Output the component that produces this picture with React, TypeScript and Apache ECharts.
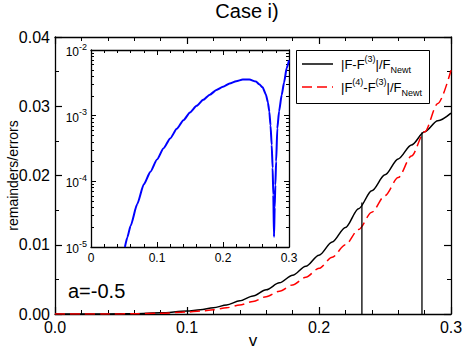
import React, { useEffect, useRef } from "react";
import * as echarts from "echarts";

const FONT = "'Liberation Sans', Arial, Helvetica, sans-serif";

// main panel: x values (v) and the two curves
const vMain = [0, 0.02, 0.04, 0.06, 0.08, 0.10, 0.11, 0.12, 0.13, 0.14, 0.15, 0.16, 0.17, 0.18, 0.19, 0.20, 0.21, 0.22, 0.23, 0.24, 0.25, 0.26, 0.27, 0.28, 0.29, 0.30];
const blackVals = [0, 0, 0.00001, 0.00005, 0.00017, 0.00042, 0.00062, 0.0009, 0.0013, 0.0019, 0.0026, 0.0035, 0.0045, 0.0056, 0.0069, 0.0085, 0.0104, 0.0125, 0.0152, 0.0178, 0.0201, 0.0224, 0.0244, 0.0263, 0.0279, 0.0290];
const redVals = [0, 0, 0.000005, 0.00003, 0.00011, 0.00028, 0.00042, 0.00062, 0.0009, 0.0013, 0.0018, 0.0025, 0.0033, 0.0042, 0.0053, 0.0066, 0.0082, 0.0100, 0.0122, 0.0147, 0.0171, 0.0197, 0.0228, 0.0263, 0.0304, 0.0352];

// vertical marker lines (x, top value)
const markerX = [0.2325, 0.278];
const markerTop = [0.0161, 0.0262];

// inset curve
const vInset = [0.0514, 0.055, 0.06, 0.07, 0.08, 0.09, 0.10, 0.11, 0.12, 0.13, 0.14, 0.15, 0.16, 0.17, 0.18, 0.19, 0.20, 0.21, 0.22, 0.23, 0.24, 0.25, 0.255, 0.26, 0.265, 0.268, 0.2702, 0.272, 0.2738, 0.2752, 0.2762, 0.2773, 0.2783, 0.2793, 0.2805, 0.2823, 0.285, 0.2889, 0.2925, 0.2965, 0.30];
const blueVals = [1.0e-5, 1.4e-5, 2.1e-5, 4.5e-5, 9.0e-5, 1.4e-4, 2.15e-4, 3.2e-4, 4.5e-4, 6.3e-4, 8.5e-4, 1.12e-3, 1.41e-3, 1.74e-3, 2.09e-3, 2.45e-3, 2.75e-3, 3.09e-3, 3.35e-3, 3.55e-3, 3.55e-3, 3.3e-3, 3.0e-3, 2.7e-3, 2.1e-3, 1.6e-3, 1.15e-3, 7.1e-4, 3.56e-4, 1.6e-4, 6.2e-5, 1.43e-5, 4.0e-5, 8.7e-5, 2.0e-4, 6.4e-4, 1.17e-3, 2.06e-3, 3.2e-3, 5.3e-3, 7.0e-3];

const nameBlack = "|F-F(3)|/FNewt";
const nameRed = "|F(4)-F(3)|/FNewt";
const legendRich = [
  "{n||F-F}{sup|(3)}{n||/F}{sub|Newt}",
  "{n||F}{sup|(4)}{n|-F}{sup|(3)}{n||/F}{sub|Newt}",
];
const annotation = "a=-0.5";
const titleText = "Case i)";

const zip = (xs: number[], ys: number[]) => xs.map((x, i) => [x, ys[i]]);

export default function App() {
  const ref = useRef<HTMLDivElement>(null);
  useEffect(() => {
    if (!ref.current) return;
    const chart = echarts.init(ref.current, null, { renderer: "svg" });
    const black = "#000";
    const red = "#ff0000";
    const axisCommon = {
      axisLine: { onZero: false, lineStyle: { color: black, width: 1.3 } },
      splitLine: { show: false },
    };
    const mainTick = { inside: true, length: 7, lineStyle: { color: black, width: 1.2 } };
    const insetTick = { inside: true, length: 5, lineStyle: { color: black, width: 1 } };
    const richLegend = {
      n: { fontSize: 13, fontFamily: FONT, fill: black, color: black, lineHeight: 20 },
      sup: { fontSize: 9, fontFamily: FONT, fill: black, color: black, verticalAlign: "top", lineHeight: 12 },
      sub: { fontSize: 9, fontFamily: FONT, fill: black, color: black, verticalAlign: "bottom", lineHeight: 12 },
    };
    const option: any = {
      animation: false,
      textStyle: { fontFamily: FONT },
      grid: [
        { left: 55, top: 37, width: 396, height: 277, outerBoundsMode: "none", containLabel: false },
        { left: 91, top: 50, width: 198, height: 197, outerBoundsMode: "none", containLabel: false },
      ],
      xAxis: [
        {
          type: "value", gridIndex: 0, min: 0, max: 0.3, interval: 0.1, position: "bottom",
          ...axisCommon,
          axisTick: mainTick,
          minorTick: { show: true, splitNumber: 5, length: 4, lineStyle: { color: black, width: 1 } },
          axisLabel: { color: black, fontSize: 16, fontFamily: FONT, margin: 5, formatter: (v: number) => v.toFixed(1) },
          name: "v", nameLocation: "middle", nameGap: 19, nameMoveOverlap: false,
          nameTextStyle: { color: black, fontSize: 17, lineHeight: 14, fontFamily: FONT },
        },
        {
          type: "value", gridIndex: 0, min: 0, max: 0.3, interval: 0.1, position: "top",
          ...axisCommon,
          axisTick: mainTick,
          minorTick: { show: true, splitNumber: 5, length: 4, lineStyle: { color: black, width: 1 } },
          axisLabel: { show: false },
        },
        {
          type: "value", gridIndex: 1, min: 0, max: 0.3, interval: 0.1, position: "bottom",
          ...axisCommon,
          axisTick: insetTick,
          minorTick: { show: true, splitNumber: 5, length: 3, lineStyle: { color: black, width: 1 } },
          axisLabel: { color: black, fontSize: 12, fontFamily: FONT, margin: 5, formatter: (v: number) => (v === 0 ? "0" : v.toFixed(1)) },
        },
        {
          type: "value", gridIndex: 1, min: 0, max: 0.3, interval: 0.1, position: "top",
          ...axisCommon,
          axisTick: insetTick,
          minorTick: { show: true, splitNumber: 5, length: 3, lineStyle: { color: black, width: 1 } },
          axisLabel: { show: false },
        },
      ],
      yAxis: [
        {
          type: "value", gridIndex: 0, min: 0, max: 0.04, interval: 0.01, position: "left",
          ...axisCommon,
          axisTick: mainTick,
          minorTick: { show: true, splitNumber: 2, length: 4, lineStyle: { color: black, width: 1 } },
          axisLabel: { color: black, fontSize: 16, fontFamily: FONT, margin: 5, formatter: (v: number) => v.toFixed(2) },
          name: "remainders/errors", nameLocation: "middle", nameGap: 35, nameMoveOverlap: false,
          nameTextStyle: { color: black, fontSize: 14, fontFamily: FONT },
        },
        {
          type: "value", gridIndex: 0, min: 0, max: 0.04, interval: 0.01, position: "right",
          ...axisCommon,
          axisTick: mainTick,
          minorTick: { show: true, splitNumber: 2, length: 4, lineStyle: { color: black, width: 1 } },
          axisLabel: { show: false },
        },
        {
          type: "log", logBase: 10, gridIndex: 1, min: 1e-5, max: 1e-2, position: "left",
          ...axisCommon,
          axisTick: insetTick,
          minorTick: { show: true, splitNumber: 9, length: 3, lineStyle: { color: black, width: 1 } },
          axisLabel: {
            color: black, fontFamily: FONT, margin: 4,
            formatter: (v: number) => `{b|10}{s|${Math.round(Math.log10(v))}}`,
            rich: {
              b: { fontSize: 12, fontFamily: FONT, color: black, lineHeight: 16, verticalAlign: "bottom" },
              s: { fontSize: 9, fontFamily: FONT, color: black, lineHeight: 9, verticalAlign: "top" },
            },
          },
        },
        {
          type: "log", logBase: 10, gridIndex: 1, min: 1e-5, max: 1e-2, position: "right",
          ...axisCommon,
          axisTick: insetTick,
          minorTick: { show: true, splitNumber: 9, length: 3, lineStyle: { color: black, width: 1 } },
          axisLabel: { show: false },
        },
      ],
      graphic: [
        {
          type: "text", x: 247, y: 1,
          style: { text: titleText, fill: black, font: `20px ${FONT}`, textAlign: "center" },
        },
        {
          type: "text", x: 68, y: 281,
          style: { text: annotation, fill: black, font: `20px ${FONT}` },
        },
        {
          type: "rect", shape: { x: 296.5, y: 50.5, width: 133, height: 53 },
          style: { fill: "#fff", stroke: black, lineWidth: 1 }, z: 10,
        },
        {
          type: "line", shape: { x1: 302, y1: 64, x2: 333, y2: 64 },
          style: { stroke: black, lineWidth: 1.5 }, z: 11,
        },
        {
          type: "line", shape: { x1: 302, y1: 87, x2: 333, y2: 87 },
          style: { stroke: red, lineWidth: 1.5, lineDash: [10, 5] }, z: 11,
        },
        {
          type: "text", x: 341, y: 64, z: 11,
          style: { text: legendRich[0], rich: richLegend, fill: black, font: `13px ${FONT}`, verticalAlign: "middle" },
        },
        {
          type: "text", x: 341, y: 87, z: 11,
          style: { text: legendRich[1], rich: richLegend, fill: black, font: `13px ${FONT}`, verticalAlign: "middle" },
        },
      ],
      series: [
        {
          name: nameBlack, type: "line", xAxisIndex: 0, yAxisIndex: 0, data: zip(vMain, blackVals),
          symbol: "none", smooth: 0.3, smoothMonotone: "x",
          lineStyle: { color: black, width: 1.5 }, itemStyle: { color: black },
        },
        {
          name: nameRed, type: "line", xAxisIndex: 0, yAxisIndex: 0, data: zip(vMain, redVals),
          symbol: "none", smooth: 0.3, smoothMonotone: "x",
          lineStyle: { color: red, width: 1.5, type: [10, 5] }, itemStyle: { color: red },
        },
        ...markerX.map((x, i) => ({
          name: "marker" + i, type: "line", xAxisIndex: 0, yAxisIndex: 0,
          data: [[x, 0], [x, markerTop[i]]], symbol: "none",
          lineStyle: { color: black, width: 1.3 },
        })),
        {
          name: "inset", type: "line", xAxisIndex: 2, yAxisIndex: 2, data: zip(vInset, blueVals),
          symbol: "none", smooth: 0.2, smoothMonotone: "x",
          lineStyle: { color: "#0000ff", width: 2 }, itemStyle: { color: "#0000ff" },
        },
      ],
    };
    chart.setOption(option);
    return () => chart.dispose();
  }, []);
  return (
    <div
      ref={ref}
      style={{ position: "fixed", left: 0, top: 0, width: 463, height: 348, background: "#fff" }}
    />
  );
}
